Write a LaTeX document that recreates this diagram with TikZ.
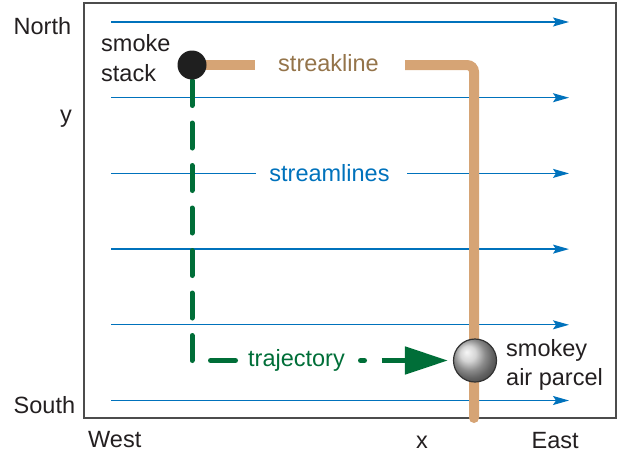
\documentclass[tikz,border=0pt]{standalone}
\usepackage{fontspec}
\setmainfont{Liberation Sans}
\usetikzlibrary{arrows.meta}
\definecolor{flowblue}{RGB}{0,114,188}
\definecolor{tanline}{RGB}{214,164,117}
\definecolor{tantext}{RGB}{148,116,74}
\definecolor{trajgreen}{RGB}{0,110,56}
\definecolor{inkblack}{RGB}{35,31,32}
\tikzset{
  lbl/.style={inner sep=0pt, font=\fontsize{23.5}{28}\selectfont, text=inkblack},
  stream/.style={draw=flowblue, line width=1.3pt},
  streamarrow/.style={stream, -{Stealth[length=16pt, width=9pt, inset=3pt]}},
  streak/.style={draw=tanline, line width=10pt},
  traj/.style={draw=trajgreen, line width=5pt, line cap=round},
  stackdot/.style={circle, fill=black!88, minimum size=29pt, inner sep=0pt},
  parcelball/.style={circle, draw=black!80, line width=1.2pt, shading=ball, ball color=black!22,
      minimum size=43pt, inner sep=0pt},
}
\begin{document}
\begin{tikzpicture}[x=1pt, y=-1pt]
\useasboundingbox (0,0) rectangle (620,455);
% frame
\draw[black!70, line width=1.3pt] (84,3) rectangle (616,418);

% streamlines
\foreach \k in {0,1,3,4,5} {
  \coordinate (sa\k) at (111,{22+75.7*\k});
  \coordinate (sb\k) at (569,{22+75.7*\k});
  \draw[streamarrow] (sa\k) -- (sb\k);
}
\coordinate (sa2) at (111,173.4);
\coordinate (sm2) at (256,173.4);
\coordinate (sn2) at (407,173.4);
\coordinate (sb2) at (569,173.4);
\draw[stream] (sa2) -- (sm2);
\draw[streamarrow] (sn2) -- (sb2);
\node[lbl, text=flowblue, anchor=base] (streamlbl) at (329.5,181.5) {streamlines};

% node positions
\coordinate (stack) at (192,65);
\coordinate (parcelpos) at (475,360.5);

% streakline
\coordinate (k1) at (255,65);
\coordinate (k2) at (405,65);
\coordinate (kc) at (474,65);
\coordinate (k3) at (474,418);
\draw[streak] (stack) -- (k1);
\draw[streak, rounded corners=7pt] (k2) -- (kc) -- (k3);
\fill[tanline] (k3) circle (5pt);
\node[lbl, text=tantext, anchor=base] (streaklbl) at (328.5,71.7) {streakline};

% trajectory
\coordinate (tc) at (192,360.5);
\draw[traj, dash pattern=on 25pt off 17.5pt] (tc) -- (stack);
\coordinate (t1) at (210.5,360.5);
\coordinate (t2) at (235.5,360.5);
\coordinate (t3) at (360.5,360.5);
\coordinate (t4) at (364.5,360.5);
\coordinate (t5) at (381.5,360.5);
\draw[traj] (t1) -- (t2);
\draw[traj] (t3) -- (t4);
\node[parcelball] (parcel) at (parcelpos) {};
\draw[traj, line cap=butt, -{Triangle[length=43pt, width=27pt]}, shorten >=5pt] (t5) -- (parcel.west);
\node[lbl, text=trajgreen, anchor=base] (trajlbl) at (296.5,366.7) {trajectory};

% smoke stack dot on top
\node[stackdot] (stackdot) at (stack) {};

% labels
\node[lbl, anchor=base west] (north) at (13.5,34.3) {North};
\node[lbl, anchor=base] (ylbl) at (66,122) {y};
\node[lbl, anchor=base west] (south) at (13.5,413) {South};
\node[lbl, anchor=base west] (west) at (88,447) {West};
\node[lbl, anchor=base] (xlbl) at (422,448) {x};
\node[lbl, anchor=base west] (east) at (531.5,448) {East};
\node[lbl, anchor=base west] (smoke) at (101,51) {smoke};
\node[lbl, anchor=base west] (stacktxt) at (101,81) {stack};
\node[lbl, anchor=base west] (smokey) at (506,356.7) {smokey};
\node[lbl, anchor=base west] (airparcel) at (506,385) {air parcel};
\end{tikzpicture}
\end{document}
